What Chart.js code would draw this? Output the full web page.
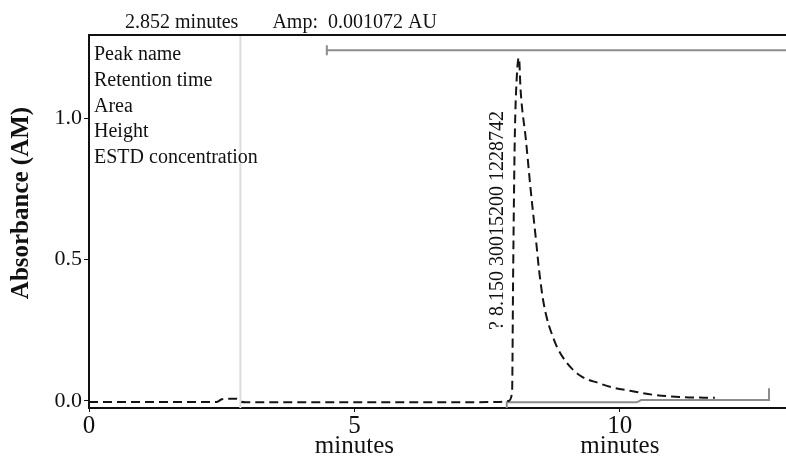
<!DOCTYPE html>
<html>
<head>
<meta charset="utf-8">
<script src="https://cdn.jsdelivr.net/npm/chart.js@4"></script>
<style>
  html, body { margin: 0; padding: 0; background: #fff; }
  #wrap { width: 786px; height: 456px; }
</style>
</head>
<body>
<div id="wrap"><canvas id="grafico" width="786" height="456"></canvas></div>
<script>
// chromatogram trace (minutes / AU)
const times = [0, 1.0, 2.0, 2.4, 2.5, 2.6, 2.78, 2.87, 2.95, 3.5, 5.0, 6.5, 7.7, 7.9,
  7.97, 7.99, 8.02, 8.06, 8.10, 8.13, 8.23, 8.32, 8.42, 8.48, 8.57, 8.76, 8.96,
  9.25, 9.62, 9.87, 10.19, 10.62, 11.13, 11.79];
const absorbance = [-0.004, -0.004, -0.004, -0.004, 0.006, 0.008, 0.008, -0.003, -0.005, -0.005, -0.005, -0.005, -0.004, 0.0,
  0.03, 0.45, 0.92, 1.15, 1.214, 1.10, 0.924, 0.747, 0.570, 0.46, 0.34, 0.216, 0.145,
  0.09, 0.062, 0.047, 0.036, 0.022, 0.014, 0.011];

// integration baseline (gray)
const baseTimes = [7.87, 7.87, 10.32, 10.40, 12.81, 12.81];
const baseValues = [-0.025, -0.005, -0.005, 0.003, 0.003, 0.045];

// peak window bracket on top
const winTimes = [4.48, 4.48, 4.48, 13.5];
const winValues = [1.258, 1.222, 1.240, 1.240];

// cursor
const cursorTime = 2.852;
const cursorAmp = '0.001072';

const peakFields = ['Peak name', 'Retention time', 'Area', 'Height', 'ESTD concentration'];
const peakInfo = { name: '?', rt: '8.150', area: '30015200', height: '1228742' };

const xTicks = [0, 5, 10];
const yTicks = [0, 0.5, 1.0];
const yTickLabels = ['0.0', '0.5', '1.0'];

const serif = '"Liberation Serif", "DejaVu Serif", serif';

function pts(xs, ys) {
	return xs.map((x, i) => ({ x: x, y: ys[i] }));
}

// texts + borders drawn on top
const extras = {
	id: 'extras',
	afterDatasetsDraw(chart) {
		const ctx = chart.ctx;
		const a = chart.chartArea;
		const xs = chart.scales.x, ys = chart.scales.y;
		ctx.save();

		// top frame line
		ctx.strokeStyle = '#111';
		ctx.lineWidth = 2;
		ctx.beginPath();
		ctx.moveTo(a.left - 1, a.top);
		ctx.lineTo(a.right, a.top);
		ctx.stroke();

		ctx.fillStyle = '#111';
		// cursor readout
		const cx = xs.getPixelForValue(cursorTime);
		ctx.font = '20px ' + serif;
		ctx.textBaseline = 'alphabetic';
		ctx.textAlign = 'right';
		ctx.fillText(cursorTime.toFixed(3) + ' minutes', cx - 2, 28);
		ctx.textAlign = 'left';
		ctx.fillText('Amp:  ' + cursorAmp + ' AU', cx + 32, 28);

		// peak table field names
		ctx.font = '20px ' + serif;
		peakFields.forEach((f, i) => {
			ctx.fillText(f, a.left + 5, a.top + 25 + i * 25.8);
		});

		// rotated peak annotation
		const px = xs.getPixelForValue(7.79);
		const py = ys.getPixelForValue(0.251);
		ctx.translate(px, py);
		ctx.rotate(-Math.PI / 2);
		ctx.font = '20px ' + serif;
		ctx.fillText([peakInfo.name, peakInfo.rt, peakInfo.area, peakInfo.height].join(' '), 0, 0);
		ctx.setTransform(1, 0, 0, 1, 0, 0);

		// y title
		ctx.translate(22, 203);
		ctx.rotate(-Math.PI / 2);
		ctx.textAlign = 'center';
		ctx.textBaseline = 'middle';
		ctx.font = 'bold 25px ' + serif;
		ctx.fillText('Absorbance (AM)', 0, 0);
		ctx.restore();
	}
};

const grafico = document.getElementById('grafico').getContext('2d');
const myChart = new Chart(grafico, {
	type: 'line',
	data: {
		datasets: [
			{
				data: pts([cursorTime, cursorTime], [-0.03, 1.3]),
				borderColor: '#dcdcdc',
				borderWidth: 2,
				pointRadius: 0,
				order: 3
			},
			{
				data: pts(baseTimes, baseValues),
				borderColor: '#8c8c8c',
				borderWidth: 2,
				pointRadius: 0,
				order: 2
			},
			{
				data: pts(winTimes, winValues),
				borderColor: '#8c8c8c',
				borderWidth: 2,
				pointRadius: 0,
				order: 2
			},
			{
				data: pts(times, absorbance),
				borderColor: '#151515',
				borderWidth: 2,
				borderDash: [9, 5],
				pointRadius: 0,
				cubicInterpolationMode: 'monotone',
				order: 1
			}
		]
	},
	options: {
		responsive: false,
		animation: false,
		layout: { padding: { top: 35, left: 0, right: 0, bottom: 0 } },
		plugins: {
			legend: { display: false },
			tooltip: { enabled: false },
			title: { display: false }
		},
		scales: {
			x: {
				type: 'linear',
				min: 0,
				max: 13.13,
				afterFit: (s) => { s.height = 48; },
				afterBuildTicks: (s) => { s.ticks = xTicks.map(v => ({ value: v })); },
				border: { display: true, color: '#111', width: 2 },
				grid: { drawOnChartArea: false, drawTicks: true, tickLength: 4, color: '#111' },
				ticks: {
					autoSkip: false,
					maxRotation: 0,
					padding: 4,
					color: '#111',
					font: { family: serif, size: 25, lineHeight: 0.8 },
					callback: (v) => v === 0 ? '0' : [String(v), 'minutes']
				}
			},
			y: {
				min: -0.025,
				max: 1.294,
				afterFit: (s) => { s.width = 89; },
				afterBuildTicks: (s) => { s.ticks = yTicks.map(v => ({ value: v })); },
				border: { display: true, color: '#111', width: 2 },
				grid: { drawOnChartArea: false, drawTicks: true, tickLength: 5, color: '#111' },
				ticks: {
					padding: 2,
					color: '#111',
					font: { family: serif, size: 22 },
					callback: (v, i) => yTickLabels[i]
				}
			}
		}
	},
	plugins: [extras]
});
</script>
</body>
</html>
